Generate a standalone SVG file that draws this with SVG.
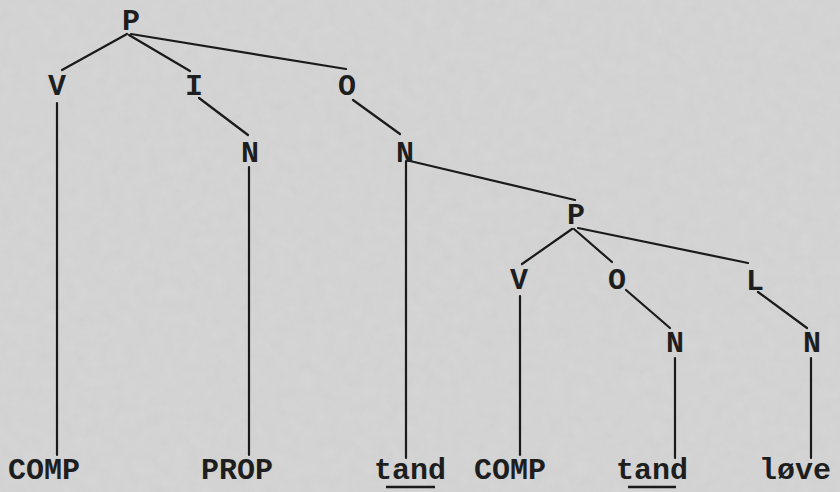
<svg xmlns="http://www.w3.org/2000/svg" width="840" height="492" viewBox="0 0 840 492">
  <defs>
    <filter id="grain" x="0" y="0" width="100%" height="100%">
      <feTurbulence type="fractalNoise" baseFrequency="0.08" numOctaves="4" seed="3" result="n"/>
      <feColorMatrix type="matrix" values="0 0 0 0 0.5  0 0 0 0 0.5  0 0 0 0 0.5  0 0 0 0.5 0" in="n"/>
    </filter>
    <style>
      .lbl { font-family: "Liberation Mono", "Courier New", monospace; font-size: 30px; font-weight: bold; fill: #1e1e1e; text-anchor: middle; }
      .edge { stroke: #1a1a1a; stroke-width: 2.2; fill: none; stroke-linecap: round; }
      .ul { stroke: #1a1a1a; stroke-width: 2.5; }
    </style>
  </defs>
  <rect x="0" y="0" width="840" height="492" fill="#d6d6d6"/>
  <rect x="0" y="0" width="840" height="492" filter="url(#grain)" opacity="0.45"/>

  <g id="connectors">
    <line class="edge" x1="127" y1="34" x2="62" y2="70"/>
    <line class="edge" x1="129" y1="35" x2="190" y2="71"/>
    <line class="edge" x1="131" y1="34" x2="346" y2="69"/>
    <line class="edge" x1="57" y1="103" x2="57" y2="455"/>
    <line class="edge" x1="199" y1="98" x2="248" y2="135"/>
    <line class="edge" x1="249" y1="167" x2="249" y2="455"/>
    <line class="edge" x1="353" y1="100" x2="400" y2="134"/>
    <line class="edge" x1="406" y1="161" x2="406" y2="458"/>
    <line class="edge" x1="410" y1="161" x2="575" y2="200"/>
    <line class="edge" x1="572" y1="229" x2="522" y2="264"/>
    <line class="edge" x1="574" y1="229" x2="612" y2="262"/>
    <line class="edge" x1="578" y1="228" x2="748" y2="263"/>
    <line class="edge" x1="520" y1="296" x2="520" y2="455"/>
    <line class="edge" x1="626" y1="290" x2="670" y2="328"/>
    <line class="edge" x1="758" y1="292" x2="807" y2="328"/>
    <line class="edge" x1="675" y1="358" x2="675" y2="458"/>
    <line class="edge" x1="811" y1="358" x2="811" y2="458"/>
  </g>

  <g id="n-P1"><text class="lbl" x="131" y="30">P</text></g>
  <g id="n-V1"><text class="lbl" x="57" y="95">V</text></g>
  <g id="n-I"><text class="lbl" x="194" y="95">I</text></g>
  <g id="n-O1"><text class="lbl" x="347" y="95">O</text></g>
  <g id="n-N1"><text class="lbl" x="250" y="162">N</text></g>
  <g id="n-N2"><text class="lbl" x="405" y="162">N</text></g>
  <g id="n-P2"><text class="lbl" x="576" y="224">P</text></g>
  <g id="n-V2"><text class="lbl" x="519" y="289">V</text></g>
  <g id="n-O2"><text class="lbl" x="617" y="289">O</text></g>
  <g id="n-L"><text class="lbl" x="755" y="290">L</text></g>
  <g id="n-N3"><text class="lbl" x="675" y="352">N</text></g>
  <g id="n-N4"><text class="lbl" x="812" y="352">N</text></g>

  <g id="leaf-comp1"><text class="lbl" x="44" y="479">COMP</text></g>
  <g id="leaf-prop"><text class="lbl" x="237" y="479">PROP</text></g>
  <g id="leaf-tand1"><text class="lbl" x="410" y="479">tand</text><line class="ul" x1="386" y1="487" x2="435" y2="487"/></g>
  <g id="leaf-comp2"><text class="lbl" x="510" y="479">COMP</text></g>
  <g id="leaf-tand2"><text class="lbl" x="652" y="479">tand</text><line class="ul" x1="628" y1="487" x2="676" y2="487"/></g>
  <g id="leaf-love"><text class="lbl" x="795" y="479">løve</text></g>
</svg>
